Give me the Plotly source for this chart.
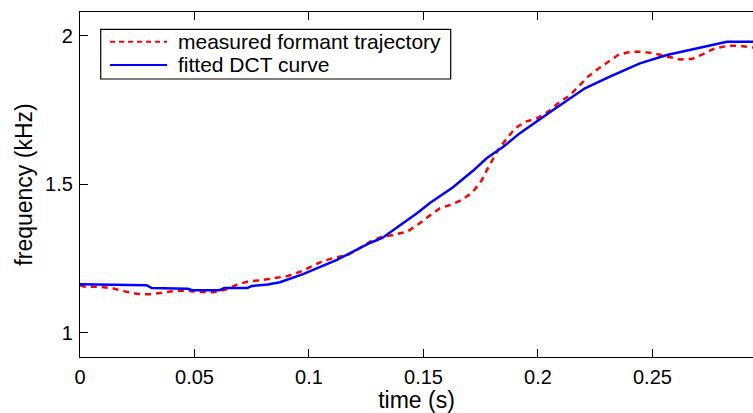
import plotly.graph_objects as go

# measured formant trajectory (red dashed)
t_meas = [0.0, 0.0022, 0.0079, 0.014, 0.0188, 0.0249, 0.0301, 0.0358, 0.0415, 0.0467,
          0.0524, 0.0581, 0.0633, 0.0686, 0.0738, 0.0795, 0.0852, 0.0908, 0.0961, 0.1013,
          0.1061, 0.1114, 0.117, 0.1214, 0.1266, 0.1319, 0.1367, 0.1428, 0.1472, 0.152,
          0.1572, 0.1616, 0.1668, 0.1716, 0.1755, 0.1777, 0.1825, 0.1865, 0.19, 0.1943,
          0.1996, 0.2044, 0.2087, 0.214, 0.2175, 0.2218, 0.2262, 0.2306, 0.2349, 0.2402,
          0.2459, 0.2511, 0.2568, 0.262, 0.2672, 0.2721, 0.2773, 0.283, 0.2882, 0.2939]
f_meas = [1.16, 1.155, 1.155, 1.15, 1.14, 1.131, 1.129, 1.135, 1.14, 1.141,
          1.137, 1.136, 1.144, 1.162, 1.173, 1.177, 1.183, 1.191, 1.205, 1.225,
          1.241, 1.253, 1.262, 1.281, 1.306, 1.323, 1.329, 1.34, 1.362, 1.39,
          1.419, 1.43, 1.447, 1.475, 1.514, 1.548, 1.615, 1.655, 1.688, 1.71,
          1.722, 1.744, 1.772, 1.8, 1.828, 1.862, 1.888, 1.912, 1.935, 1.946,
          1.946, 1.94, 1.929, 1.92, 1.922, 1.938, 1.958, 1.966, 1.966, 1.96]

# fitted DCT curve (blue solid)
t_fit = [0.0, 0.029, 0.0314, 0.047, 0.049, 0.061, 0.063, 0.073, 0.075, 0.082,
         0.0873, 0.0974, 0.1122, 0.1266, 0.132, 0.141, 0.1473, 0.1528, 0.1629, 0.1716,
         0.1777, 0.1847, 0.1921, 0.2066, 0.214, 0.2205, 0.2314, 0.2445, 0.2563, 0.2677,
         0.2782, 0.2825, 0.2939]
f_fit = [1.163, 1.16, 1.15, 1.148, 1.143, 1.143, 1.15, 1.15, 1.157, 1.162,
         1.17, 1.197, 1.245, 1.302, 1.319, 1.369, 1.403, 1.437, 1.49, 1.545,
         1.588, 1.625, 1.672, 1.75, 1.79, 1.823, 1.862, 1.907, 1.935, 1.955,
         1.971, 1.98, 1.98]

series_names = ["measured formant trajectory", "fitted DCT curve"]
series_colors = ["#FF0000", "#0000FF"]
series_dash = ["6px,5px", "solid"]

x_ticks = [0, 0.05, 0.1, 0.15, 0.2, 0.25]
x_labels = ["0", "0.05", "0.1", "0.15", "0.2", "0.25"]
y_ticks = [1, 1.5, 2]
y_labels = ["1", "1.5", "2"]

FONT = "Liberation Sans, Arial, Helvetica, sans-serif"

fig = go.Figure()
for (tx, fy), name, col, dash in zip([(t_meas, f_meas), (t_fit, f_fit)],
                                     series_names, series_colors, series_dash):
    fig.add_trace(go.Scatter(x=tx, y=fy, mode="lines", name=name,
                             line=dict(color=col, width=2.5, dash=dash),
                             showlegend=False))

# legend box drawn in paper coordinates (MATLAB-style legend)
leg_x0, leg_x1, leg_y0, leg_y1 = 0.0308, 0.5508, 0.8058, 0.9499
row_y = [0.9139, 0.8464]
fig.add_shape(type="rect", xref="paper", yref="paper",
              x0=leg_x0, x1=leg_x1, y0=leg_y0, y1=leg_y1,
              line=dict(color="black", width=1.2), fillcolor="white", layer="above")
for ry, name, col, dash in zip(row_y, series_names, series_colors, series_dash):
    fig.add_shape(type="line", xref="paper", yref="paper",
                  x0=0.0446, x1=0.1293, y0=ry, y1=ry, layer="above",
                  line=dict(color=col, width=2, dash="5px,4px" if dash != "solid" else "solid"))
    fig.add_annotation(xref="paper", yref="paper", x=0.1426, y=ry,
                       xanchor="left", yanchor="middle", showarrow=False,
                       text=name, font=dict(size=21, family=FONT, color="black"))

fig.update_layout(
    width=753, height=413,
    margin=dict(l=80, r=0, t=12, b=56),
    plot_bgcolor="white", paper_bgcolor="white",
    font=dict(family=FONT, color="black", size=20),
    showlegend=False,
)
fig.update_xaxes(range=[0, 0.2939], tickvals=x_ticks, ticktext=x_labels,
                 ticks="inside", ticklen=8, tickwidth=1.3, tickcolor="black",
                 showline=True, linecolor="black", linewidth=1.3, mirror="ticks",
                 showgrid=False, zeroline=False, ticklabelstandoff=2,
                 title=dict(text="time (s)", font=dict(size=23), standoff=5))
fig.update_yaxes(range=[0.918, 2.08], tickvals=y_ticks, ticktext=y_labels,
                 ticks="inside", ticklen=8, tickwidth=1.3, tickcolor="black",
                 showline=True, linecolor="black", linewidth=1.3, mirror=False,
                 showgrid=False, zeroline=False, ticklabelstandoff=2,
                 title=dict(text="frequency (kHz)", font=dict(size=23), standoff=5))

fig.write_html("out.html")
